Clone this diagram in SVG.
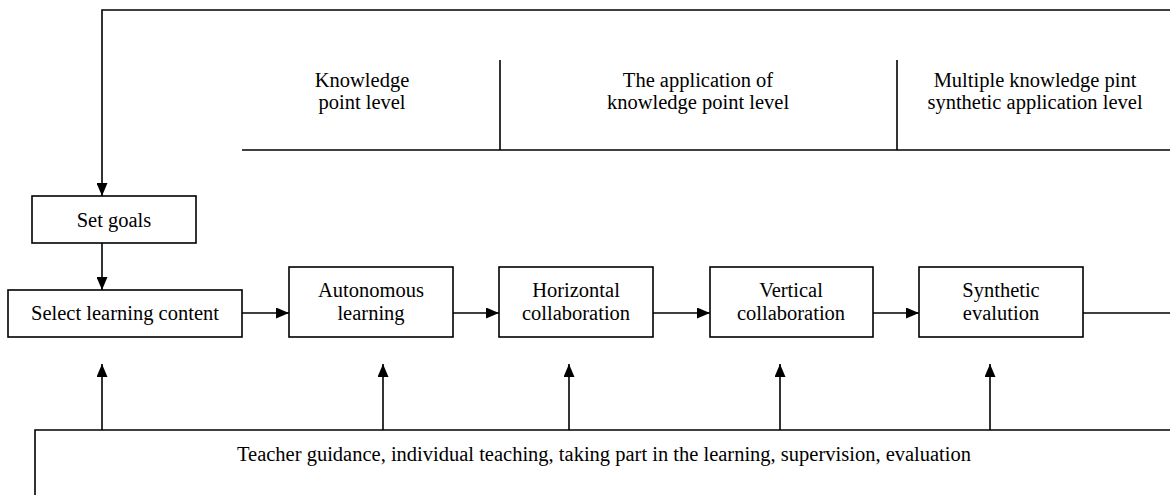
<svg xmlns="http://www.w3.org/2000/svg" width="1170" height="495" viewBox="0 0 1170 495">
<style>
.box{fill:#fff;stroke:#000;stroke-width:1.6}
.ln{fill:none;stroke:#000;stroke-width:1.6}
text{font-family:"Liberation Serif","Times New Roman",serif;font-size:20.5px;fill:#000;text-anchor:middle}
</style>
<defs>
<marker id="ah" viewBox="0 0 13 11" refX="13" refY="5.5" markerWidth="13" markerHeight="11" markerUnits="userSpaceOnUse" orient="auto">
<path d="M0,0 L13,5.5 L0,11 Z" fill="#000"/>
</marker>
</defs>
<g id="levels">
<line class="ln" x1="242" y1="150" x2="1170" y2="150" stroke-width="2"/>
<line class="ln" x1="500" y1="60" x2="500" y2="150"/>
<line class="ln" x1="897" y1="60" x2="897" y2="150"/>
<text x="362" y="87">Knowledge</text>
<text x="362" y="109">point level</text>
<text x="698" y="87">The application of</text>
<text x="698" y="109">knowledge point level</text>
<text x="1035" y="87">Multiple knowledge pint</text>
<text x="1035" y="109">synthetic application level</text>
</g>
<g id="connectors">
<polyline class="ln" points="1170,10 102,10 102,196" marker-end="url(#ah)"/>
<line class="ln" x1="102" y1="243" x2="102" y2="290" marker-end="url(#ah)"/>
<line class="ln" x1="242" y1="313" x2="289" y2="313" marker-end="url(#ah)"/>
<line class="ln" x1="453" y1="313" x2="499" y2="313" marker-end="url(#ah)"/>
<line class="ln" x1="653" y1="313" x2="710" y2="313" marker-end="url(#ah)"/>
<line class="ln" x1="873" y1="313" x2="919" y2="313" marker-end="url(#ah)"/>
<line class="ln" x1="1083" y1="313" x2="1170" y2="313"/>
<line class="ln" x1="102" y1="430" x2="102" y2="364" marker-end="url(#ah)"/>
<line class="ln" x1="383" y1="430" x2="383" y2="364" marker-end="url(#ah)"/>
<line class="ln" x1="569" y1="430" x2="569" y2="364" marker-end="url(#ah)"/>
<line class="ln" x1="780" y1="430" x2="780" y2="364" marker-end="url(#ah)"/>
<line class="ln" x1="990" y1="430" x2="990" y2="364" marker-end="url(#ah)"/>
</g>
<g id="set-goals">
<rect class="box" x="32" y="196" width="164" height="47"/>
<text x="114" y="227">Set goals</text>
</g>
<g id="select-content">
<rect class="box" x="8" y="290" width="234" height="47"/>
<text x="125" y="320">Select learning content</text>
</g>
<g id="autonomous">
<rect class="box" x="289" y="267" width="164" height="70"/>
<text x="371" y="297">Autonomous</text>
<text x="371" y="320">learning</text>
</g>
<g id="horizontal">
<rect class="box" x="499" y="267" width="154" height="70"/>
<text x="576" y="297">Horizontal</text>
<text x="576" y="320">collaboration</text>
</g>
<g id="vertical">
<rect class="box" x="710" y="267" width="163" height="70"/>
<text x="791" y="297">Vertical</text>
<text x="791" y="320">collaboration</text>
</g>
<g id="synthetic">
<rect class="box" x="919" y="267" width="164" height="70"/>
<text x="1001" y="297">Synthetic</text>
<text x="1001" y="320">evalution</text>
</g>
<g id="teacher">
<polyline class="ln" points="1170,430 35,430 35,495"/>
<text x="604" y="461">Teacher guidance, individual teaching, taking part in the learning, supervision, evaluation</text>
</g>
</svg>
